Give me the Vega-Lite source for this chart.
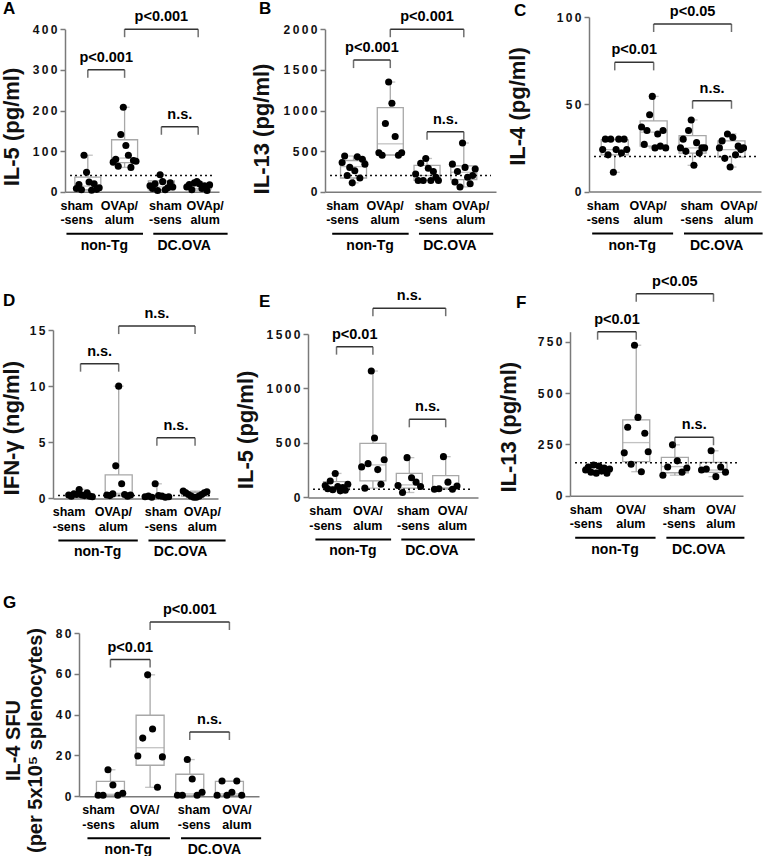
{
"$schema": "https://vega.github.io/schema/vega-lite/v6.json",
"padding": 0,
"background": "white",
"config": {
  "font": "Liberation Sans",
  "view": {"stroke": null},
  "axisY": {"grid": false, "domainColor": "#7a7a7a", "domainWidth": 1.5, "tickColor": "#7a7a7a", "tickWidth": 1.5, "tickSize": 5, "labelFont": "Liberation Sans", "labelFontSize": 12, "labelFontWeight": "bold", "labelColor": "#111", "labelPadding": 3, "titleFont": "Liberation Sans", "titleFontSize": 22, "titleFontWeight": "bold", "titleColor": "#111"},
  "axisX": {"grid": false, "ticks": false, "labels": false, "domainColor": "#7a7a7a", "domainWidth": 1.5},
  "title": {"font": "Liberation Sans", "fontSize": 17, "fontWeight": "bold", "anchor": "start", "frame": "group", "offset": 0, "color": "#000", "baseline": "alphabetic"},
  "text": {"font": "Liberation Sans", "fontWeight": "bold", "color": "#000"}
},
"datasets": {
  "catP": [{"lx":0.70,"t1":"sham","t2":"-sens"},{"lx":1.86,"t1":"OVAp/","t2":"alum"},{"lx":3.11,"t1":"sham","t2":"-sens"},{"lx":4.19,"t1":"OVAp/","t2":"alum"}],
  "catO": [{"lx":0.70,"t1":"sham","t2":"-sens"},{"lx":1.86,"t1":"OVA/","t2":"alum"},{"lx":3.11,"t1":"sham","t2":"-sens"},{"lx":4.19,"t1":"OVA/","t2":"alum"}],
  "grp": [{"a":0.42,"b":2.5,"m":1.45,"t":"non-Tg"},{"a":2.78,"b":4.8,"m":3.62,"t":"DC.OVA"}],
  "A_pts": [{"g":1,"v":8},{"g":1,"v":18},{"g":1,"v":5},{"g":1,"v":90},{"g":1,"v":48},{"g":1,"v":24},{"g":1,"v":4},{"g":1,"v":20},{"g":1,"v":6},{"g":1,"v":10},
            {"g":2,"v":73},{"g":2,"v":80},{"g":2,"v":63},{"g":2,"v":141},{"g":2,"v":208},{"g":2,"v":114},{"g":2,"v":90},{"g":2,"v":60},{"g":2,"v":77},{"g":2,"v":75},
            {"g":3,"v":15},{"g":3,"v":8},{"g":3,"v":20},{"g":3,"v":3},{"g":3,"v":42},{"g":3,"v":25},{"g":3,"v":5},{"g":3,"v":10},{"g":3,"v":22},{"g":3,"v":12},
            {"g":4,"v":12},{"g":4,"v":18},{"g":4,"v":5},{"g":4,"v":22},{"g":4,"v":25},{"g":4,"v":20},{"g":4,"v":8},{"g":4,"v":15},{"g":4,"v":3},{"g":4,"v":17}],
  "A_box": [{"g":1,"lo":4,"q1":5,"md":14,"q3":36,"hi":90},{"g":2,"lo":60,"q1":72,"md":83,"q3":128,"hi":208},{"g":3,"lo":3,"q1":5,"md":12,"q3":27,"hi":42},{"g":4,"lo":3,"q1":7,"md":13,"q3":19,"hi":25}],
  "A_brk": [{"a":1,"b":2,"y":300,"t":"p<0.001"},{"a":2,"b":4,"y":400,"t":"p<0.001"},{"a":3,"b":4,"y":160,"t":"n.s."}],
  "B_pts": [{"g":1,"v":360},{"g":1,"v":440},{"g":1,"v":200},{"g":1,"v":300},{"g":1,"v":110},{"g":1,"v":260},{"g":1,"v":430},{"g":1,"v":170},{"g":1,"v":400},{"g":1,"v":340},
            {"g":2,"v":480},{"g":2,"v":450},{"g":2,"v":840},{"g":2,"v":1350},{"g":2,"v":1090},{"g":2,"v":680},{"g":2,"v":450},{"g":2,"v":480},
            {"g":3,"v":220},{"g":3,"v":140},{"g":3,"v":350},{"g":3,"v":140},{"g":3,"v":410},{"g":3,"v":290},{"g":3,"v":140},{"g":3,"v":250},{"g":3,"v":180},{"g":3,"v":140},
            {"g":4,"v":340},{"g":4,"v":120},{"g":4,"v":250},{"g":4,"v":60},{"g":4,"v":600},{"g":4,"v":300},{"g":4,"v":180},{"g":4,"v":100},{"g":4,"v":200},{"g":4,"v":280}],
  "B_box": [{"g":1,"lo":110,"q1":170,"md":310,"q3":385,"hi":440},{"g":2,"lo":450,"q1":455,"md":590,"q3":1035,"hi":1350},{"g":3,"lo":140,"q1":140,"md":200,"q3":325,"hi":410},{"g":4,"lo":60,"q1":150,"md":240,"q3":320,"hi":600}],
  "B_brk": [{"a":1,"b":2,"y":1620,"t":"p<0.001"},{"a":2,"b":4,"y":2000,"t":"p<0.001"},{"a":3,"b":4,"y":740,"t":"n.s."}],
  "C_pts": [{"g":1,"v":24},{"g":1,"v":30},{"g":1,"v":21},{"g":1,"v":30},{"g":1,"v":11},{"g":1,"v":24},{"g":1,"v":30},{"g":1,"v":22},{"g":1,"v":30},{"g":1,"v":24},
            {"g":2,"v":37},{"g":2,"v":27},{"g":2,"v":35},{"g":2,"v":44},{"g":2,"v":54.5},{"g":2,"v":25},{"g":2,"v":33},{"g":2,"v":26},{"g":2,"v":35},{"g":2,"v":25},
            {"g":3,"v":25},{"g":3,"v":30},{"g":3,"v":23},{"g":3,"v":35},{"g":3,"v":41},{"g":3,"v":15},{"g":3,"v":28},{"g":3,"v":22},{"g":3,"v":25},{"g":3,"v":25},
            {"g":4,"v":25},{"g":4,"v":29},{"g":4,"v":19},{"g":4,"v":33},{"g":4,"v":14},{"g":4,"v":31},{"g":4,"v":21},{"g":4,"v":26},{"g":4,"v":24},{"g":4,"v":25}],
  "C_box": [{"g":1,"lo":11,"q1":21,"md":24,"q3":29.6,"hi":30},{"g":2,"lo":25,"q1":26,"md":34,"q3":40.5,"hi":54.5},{"g":3,"lo":15,"q1":22,"md":25,"q3":32,"hi":41},{"g":4,"lo":14,"q1":19.7,"md":24,"q3":29,"hi":33}],
  "C_brk": [{"a":1,"b":2,"y":74,"t":"p<0.01"},{"a":2,"b":4,"y":96,"t":"p<0.05"},{"a":3,"b":4,"y":52,"t":"n.s."}],
  "D_pts": [{"g":1,"v":0.3},{"g":1,"v":0.2},{"g":1,"v":0.4},{"g":1,"v":0.35},{"g":1,"v":0.8},{"g":1,"v":0.3},{"g":1,"v":0.25},{"g":1,"v":0.5},{"g":1,"v":0.2},{"g":1,"v":0.15},
            {"g":2,"v":0.3},{"g":2,"v":0.25},{"g":2,"v":0.4},{"g":2,"v":2.9},{"g":2,"v":10},{"g":2,"v":1.3},{"g":2,"v":0.35},{"g":2,"v":0.2},{"g":2,"v":0.3},
            {"g":3,"v":0.15},{"g":3,"v":0.2},{"g":3,"v":0.1},{"g":3,"v":1.3},{"g":3,"v":0.25},{"g":3,"v":0.2},{"g":3,"v":0.1},{"g":3,"v":0.15},
            {"g":4,"v":0.65},{"g":4,"v":0.5},{"g":4,"v":0.35},{"g":4,"v":0.2},{"g":4,"v":0.1},{"g":4,"v":0.1},{"g":4,"v":0.2},{"g":4,"v":0.35},{"g":4,"v":0.5},{"g":4,"v":0.6}],
  "D_box": [{"g":1,"lo":0.15,"q1":0.2,"md":0.3,"q3":0.4,"hi":0.8},{"g":2,"lo":0.2,"q1":0.3,"md":0.45,"q3":2.1,"hi":10},{"g":3,"lo":0.1,"q1":0.15,"md":0.2,"q3":0.25,"hi":1.3},{"g":4,"lo":0.1,"q1":0.2,"md":0.35,"q3":0.55,"hi":0.65}],
  "D_brk": [{"a":1,"b":2,"y":12,"t":"n.s."},{"a":2,"b":4,"y":15.35,"t":"n.s."},{"a":3,"b":4,"y":5.4,"t":"n.s."}],
  "E_pts": [{"g":1,"v":110},{"g":1,"v":80},{"g":1,"v":150},{"g":1,"v":70},{"g":1,"v":220},{"g":1,"v":100},{"g":1,"v":60},{"g":1,"v":90},{"g":1,"v":65},{"g":1,"v":120},
            {"g":2,"v":280},{"g":2,"v":85},{"g":2,"v":310},{"g":2,"v":1160},{"g":2,"v":545},{"g":2,"v":255},{"g":2,"v":120},{"g":2,"v":345},
            {"g":3,"v":110},{"g":3,"v":45},{"g":3,"v":365},{"g":3,"v":180},{"g":3,"v":140},{"g":3,"v":100},
            {"g":4,"v":75},{"g":4,"v":80},{"g":4,"v":374},{"g":4,"v":140},{"g":4,"v":75},{"g":4,"v":105}],
  "E_box": [{"g":1,"lo":60,"q1":70,"md":100,"q3":145,"hi":220},{"g":2,"lo":85,"q1":151,"md":298,"q3":496,"hi":1160},{"g":3,"lo":45,"q1":85,"md":115,"q3":220,"hi":365},{"g":4,"lo":75,"q1":80,"md":90,"q3":200,"hi":374}],
  "E_brk": [{"a":1,"b":2,"y":1384,"t":"p<0.01"},{"a":2,"b":4,"y":1737,"t":"n.s."},{"a":3,"b":4,"y":717,"t":"n.s."}],
  "F_pts": [{"g":1,"v":125},{"g":1,"v":140},{"g":1,"v":115},{"g":1,"v":150},{"g":1,"v":110},{"g":1,"v":145},{"g":1,"v":120},{"g":1,"v":135},{"g":1,"v":110},{"g":1,"v":130},
            {"g":2,"v":209},{"g":2,"v":334},{"g":2,"v":153},{"g":2,"v":734},{"g":2,"v":382},{"g":2,"v":117},{"g":2,"v":305},{"g":2,"v":214},
            {"g":3,"v":100},{"g":3,"v":140},{"g":3,"v":248},{"g":3,"v":170},{"g":3,"v":115},{"g":3,"v":135},
            {"g":4,"v":125},{"g":4,"v":130},{"g":4,"v":219},{"g":4,"v":93},{"g":4,"v":140},{"g":4,"v":115}],
  "F_box": [{"g":1,"lo":110,"q1":115,"md":125,"q3":140,"hi":150},{"g":2,"lo":117,"q1":166,"md":259,"q3":370,"hi":734},{"g":3,"lo":100,"q1":112,"md":142,"q3":187,"hi":248},{"g":4,"lo":93,"q1":114,"md":125,"q3":163,"hi":219}],
  "F_brk": [{"a":1,"b":2,"y":800,"t":"p<0.01"},{"a":2,"b":4,"y":985,"t":"p<0.05"},{"a":3,"b":4,"y":285,"t":"n.s."}],
  "G_pts": [{"g":1,"v":0.5},{"g":1,"v":0.5},{"g":1,"v":13},{"g":1,"v":5.5},{"g":1,"v":0.5},{"g":1,"v":1.5},
            {"g":2,"v":19.7},{"g":2,"v":28.5},{"g":2,"v":59.5},{"g":2,"v":33},{"g":2,"v":4.4},{"g":2,"v":19.3},
            {"g":3,"v":0.5},{"g":3,"v":0.5},{"g":3,"v":18},{"g":3,"v":8.5},{"g":3,"v":0.5},{"g":3,"v":2},
            {"g":4,"v":0.5},{"g":4,"v":7.5},{"g":4,"v":0.5},{"g":4,"v":2},{"g":4,"v":7.5},{"g":4,"v":0.5}],
  "G_box": [{"g":1,"lo":0.5,"q1":0.5,"md":1,"q3":7.3,"hi":13},{"g":2,"lo":4.4,"q1":15.2,"md":23.8,"q3":39.7,"hi":59.5},{"g":3,"lo":0.5,"q1":0.5,"md":1.2,"q3":10.8,"hi":18},{"g":4,"lo":0.5,"q1":0.5,"md":1.2,"q3":7.3,"hi":7.5}],
  "G_brk": [{"a":1,"b":2,"y":67,"t":"p<0.01"},{"a":2,"b":4,"y":85.4,"t":"p<0.001"},{"a":3,"b":4,"y":31.5,"t":"n.s."}]
},
"columns": 3,
"align": "each",
"spacing": 0,
"bounds": "flush",
"concat": [
   {"width":255,"height":312.8,"title":{"text":"A","dx":-50,"dy":13},
      "layer":[
       {"data":{"name":"A_box"},"mark":{"type":"rule","color":"#a8a8a8","strokeWidth":1.3},
        "encoding":{"x":{"field":"g","type":"quantitative","scale":{"domain":[0.516,4.43],"range":[12,166],"nice":false,"zero":false},"axis":{"title":null,"offset":-138}},
          "y":{"field":"lo","type":"quantitative","scale":{"domain":[0,400],"range":[174.8,12.2],"nice":false,"zero":false},"axis":{"values":[0,100,200,300,400],"offset":-12,"title":"IL-5 (pg/ml)","titleY":109.5,"titlePadding":9,"format":"d","labelExpr":"join(split(datum.label,''),'\u2009')"}},
          "y2":{"field":"hi"}}},
       {"data":{"name":"A_box"},"transform":[{"fold":["lo","hi"],"as":["w","v"]}],"mark":{"type":"tick","orient":"horizontal","size":10,"thickness":1.3,"color":"#a8a8a8"},
        "encoding":{"x":{"field":"g","type":"quantitative"},"y":{"field":"v","type":"quantitative"}}},
       {"data":{"name":"A_box"},"mark":{"type":"bar","width":26,"fill":"white","stroke":"#a8a8a8","strokeWidth":1.3},
        "encoding":{"x":{"field":"g","type":"quantitative"},"y":{"field":"q1","type":"quantitative"},"y2":{"field":"q3"}}},
       {"data":{"name":"A_box"},"mark":{"type":"tick","orient":"horizontal","size":26,"thickness":1.3,"color":"#a8a8a8"},
        "encoding":{"x":{"field":"g","type":"quantitative"},"y":{"field":"md","type":"quantitative"}}},
       {"data":{"values":[{"t":40}]},"mark":{"type":"rule","strokeDash":[2,3],"strokeWidth":1.5,"color":"#111"},
        "encoding":{"x":{"datum":0.516,"type":"quantitative"},"x2":{"datum":4.43},"y":{"field":"t","type":"quantitative"}}},
       {"data":{"name":"A_pts"},"transform":[{"window":[{"op":"row_number","as":"k"}],"groupby":["g"]},{"joinaggregate":[{"op":"count","as":"n"}],"groupby":["g"]},{"calculate":"datum.g + (datum.k - (datum.n + 1) / 2) / (datum.n - 1) * 0.62","as":"xj"}],
        "mark":{"type":"circle","size":50,"color":"#000","opacity":1},
        "encoding":{"x":{"field":"xj","type":"quantitative"},"y":{"field":"v","type":"quantitative"}}},
       {"data":{"name":"A_brk"},"mark":{"type":"rule","color":"#333","strokeWidth":1.5},
        "encoding":{"x":{"field":"a","type":"quantitative"},"x2":{"field":"b"},"y":{"field":"y","type":"quantitative"}}},
       {"data":{"name":"A_brk"},"transform":[{"fold":["a","b"],"as":["e","xe"]}],"mark":{"type":"tick","orient":"vertical","size":8,"thickness":1.5,"color":"#333","yOffset":4},
        "encoding":{"x":{"field":"xe","type":"quantitative"},"y":{"field":"y","type":"quantitative"}}},
       {"data":{"name":"A_brk"},"transform":[{"calculate":"(datum.a + datum.b) / 2","as":"m"}],"mark":{"type":"text","fontSize":14.5,"dy":-8,"baseline":"alphabetic"},
        "encoding":{"x":{"field":"m","type":"quantitative"},"y":{"field":"y","type":"quantitative"},"text":{"field":"t"}}},
       {"data":{"name":"catP"},"mark":{"type":"text","fontSize":12.5,"baseline":"top","dy":8},
        "encoding":{"x":{"field":"lx","type":"quantitative"},"y":{"datum":0,"type":"quantitative"},"text":{"field":"t1"}}},
       {"data":{"name":"catP"},"mark":{"type":"text","fontSize":12.5,"baseline":"top","dy":22.5},
        "encoding":{"x":{"field":"lx","type":"quantitative"},"y":{"datum":0,"type":"quantitative"},"text":{"field":"t2"}}},
       {"data":{"name":"grp"},"mark":{"type":"rule","strokeWidth":2,"color":"#000","yOffset":42},
        "encoding":{"x":{"field":"a","type":"quantitative"},"x2":{"field":"b"},"y":{"datum":0,"type":"quantitative"}}},
       {"data":{"name":"grp"},"mark":{"type":"text","fontSize":14,"dy":58,"baseline":"alphabetic"},
        "encoding":{"x":{"field":"m","type":"quantitative"},"y":{"datum":0,"type":"quantitative"},"text":{"field":"t"}}}
      ]},
   {"width":262,"height":312.8,"title":{"text":"B","dx":-49,"dy":13},
      "layer":[
       {"data":{"name":"B_box"},"mark":{"type":"rule","color":"#a8a8a8","strokeWidth":1.3},
        "encoding":{"x":{"field":"g","type":"quantitative","scale":{"domain":[0.36,4.74],"range":[17,188],"nice":false,"zero":false},"axis":{"title":null,"offset":-138}},
          "y":{"field":"lo","type":"quantitative","scale":{"domain":[0,2000],"range":[174.8,12.2],"nice":false,"zero":false},"axis":{"values":[0,500,1000,1500,2000],"offset":-17,"title":"IL-13 (pg/ml)","titleY":111.5,"titlePadding":9.5,"format":"d","labelExpr":"join(split(datum.label,''),'\u2009')"}},
          "y2":{"field":"hi"}}},
       {"data":{"name":"B_box"},"transform":[{"fold":["lo","hi"],"as":["w","v"]}],"mark":{"type":"tick","orient":"horizontal","size":10,"thickness":1.3,"color":"#a8a8a8"},
        "encoding":{"x":{"field":"g","type":"quantitative"},"y":{"field":"v","type":"quantitative"}}},
       {"data":{"name":"B_box"},"mark":{"type":"bar","width":26,"fill":"white","stroke":"#a8a8a8","strokeWidth":1.3},
        "encoding":{"x":{"field":"g","type":"quantitative"},"y":{"field":"q1","type":"quantitative"},"y2":{"field":"q3"}}},
       {"data":{"name":"B_box"},"mark":{"type":"tick","orient":"horizontal","size":26,"thickness":1.3,"color":"#a8a8a8"},
        "encoding":{"x":{"field":"g","type":"quantitative"},"y":{"field":"md","type":"quantitative"}}},
       {"data":{"values":[{"t":200}]},"mark":{"type":"rule","strokeDash":[2,3],"strokeWidth":1.5,"color":"#111"},
        "encoding":{"x":{"datum":0.36,"type":"quantitative"},"x2":{"datum":4.74},"y":{"field":"t","type":"quantitative"}}},
       {"data":{"name":"B_pts"},"transform":[{"window":[{"op":"row_number","as":"k"}],"groupby":["g"]},{"joinaggregate":[{"op":"count","as":"n"}],"groupby":["g"]},{"calculate":"datum.g + (datum.k - (datum.n + 1) / 2) / (datum.n - 1) * 0.62","as":"xj"}],
        "mark":{"type":"circle","size":50,"color":"#000","opacity":1},
        "encoding":{"x":{"field":"xj","type":"quantitative"},"y":{"field":"v","type":"quantitative"}}},
       {"data":{"name":"B_brk"},"mark":{"type":"rule","color":"#333","strokeWidth":1.5},
        "encoding":{"x":{"field":"a","type":"quantitative"},"x2":{"field":"b"},"y":{"field":"y","type":"quantitative"}}},
       {"data":{"name":"B_brk"},"transform":[{"fold":["a","b"],"as":["e","xe"]}],"mark":{"type":"tick","orient":"vertical","size":8,"thickness":1.5,"color":"#333","yOffset":4},
        "encoding":{"x":{"field":"xe","type":"quantitative"},"y":{"field":"y","type":"quantitative"}}},
       {"data":{"name":"B_brk"},"transform":[{"calculate":"(datum.a + datum.b) / 2","as":"m"}],"mark":{"type":"text","fontSize":14.5,"dy":-8,"baseline":"alphabetic"},
        "encoding":{"x":{"field":"m","type":"quantitative"},"y":{"field":"y","type":"quantitative"},"text":{"field":"t"}}},
       {"data":{"name":"catP"},"mark":{"type":"text","fontSize":12.5,"baseline":"top","dy":8},
        "encoding":{"x":{"field":"lx","type":"quantitative"},"y":{"datum":0,"type":"quantitative"},"text":{"field":"t1"}}},
       {"data":{"name":"catP"},"mark":{"type":"text","fontSize":12.5,"baseline":"top","dy":22.5},
        "encoding":{"x":{"field":"lx","type":"quantitative"},"y":{"datum":0,"type":"quantitative"},"text":{"field":"t2"}}},
       {"data":{"name":"grp"},"mark":{"type":"rule","strokeWidth":2,"color":"#000","yOffset":42},
        "encoding":{"x":{"field":"a","type":"quantitative"},"x2":{"field":"b"},"y":{"datum":0,"type":"quantitative"}}},
       {"data":{"name":"grp"},"mark":{"type":"text","fontSize":14,"dy":58,"baseline":"alphabetic"},
        "encoding":{"x":{"field":"m","type":"quantitative"},"y":{"datum":0,"type":"quantitative"},"text":{"field":"t"}}}
      ]},
   {"width":194,"height":312.8,"title":{"text":"C","dx":-56,"dy":20},
      "layer":[
       {"data":{"name":"C_box"},"mark":{"type":"rule","color":"#a8a8a8","strokeWidth":1.3},
        "encoding":{"x":{"field":"g","type":"quantitative","scale":{"domain":[0.467,4.63],"range":[19,191],"nice":false,"zero":false},"axis":{"title":null,"offset":-138.3}},
          "y":{"field":"lo","type":"quantitative","scale":{"domain":[0,100],"range":[174.5,0],"nice":false,"zero":false},"axis":{"values":[0,50,100],"offset":-19,"title":"IL-4 (pg/ml)","titleY":89,"titlePadding":27,"format":"d","labelExpr":"join(split(datum.label,''),'\u2009')"}},
          "y2":{"field":"hi"}}},
       {"data":{"name":"C_box"},"transform":[{"fold":["lo","hi"],"as":["w","v"]}],"mark":{"type":"tick","orient":"horizontal","size":10,"thickness":1.3,"color":"#a8a8a8"},
        "encoding":{"x":{"field":"g","type":"quantitative"},"y":{"field":"v","type":"quantitative"}}},
       {"data":{"name":"C_box"},"mark":{"type":"bar","width":27,"fill":"white","stroke":"#a8a8a8","strokeWidth":1.3},
        "encoding":{"x":{"field":"g","type":"quantitative"},"y":{"field":"q1","type":"quantitative"},"y2":{"field":"q3"}}},
       {"data":{"name":"C_box"},"mark":{"type":"tick","orient":"horizontal","size":27,"thickness":1.3,"color":"#a8a8a8"},
        "encoding":{"x":{"field":"g","type":"quantitative"},"y":{"field":"md","type":"quantitative"}}},
       {"data":{"values":[{"t":20}]},"mark":{"type":"rule","strokeDash":[2,3],"strokeWidth":1.5,"color":"#111"},
        "encoding":{"x":{"datum":0.467,"type":"quantitative"},"x2":{"datum":4.63},"y":{"field":"t","type":"quantitative"}}},
       {"data":{"name":"C_pts"},"transform":[{"window":[{"op":"row_number","as":"k"}],"groupby":["g"]},{"joinaggregate":[{"op":"count","as":"n"}],"groupby":["g"]},{"calculate":"datum.g + (datum.k - (datum.n + 1) / 2) / (datum.n - 1) * 0.62","as":"xj"}],
        "mark":{"type":"circle","size":50,"color":"#000","opacity":1},
        "encoding":{"x":{"field":"xj","type":"quantitative"},"y":{"field":"v","type":"quantitative"}}},
       {"data":{"name":"C_brk"},"mark":{"type":"rule","color":"#333","strokeWidth":1.5},
        "encoding":{"x":{"field":"a","type":"quantitative"},"x2":{"field":"b"},"y":{"field":"y","type":"quantitative"}}},
       {"data":{"name":"C_brk"},"transform":[{"fold":["a","b"],"as":["e","xe"]}],"mark":{"type":"tick","orient":"vertical","size":8,"thickness":1.5,"color":"#333","yOffset":4},
        "encoding":{"x":{"field":"xe","type":"quantitative"},"y":{"field":"y","type":"quantitative"}}},
       {"data":{"name":"C_brk"},"transform":[{"calculate":"(datum.a + datum.b) / 2","as":"m"}],"mark":{"type":"text","fontSize":14.5,"dy":-8,"baseline":"alphabetic"},
        "encoding":{"x":{"field":"m","type":"quantitative"},"y":{"field":"y","type":"quantitative"},"text":{"field":"t"}}},
       {"data":{"name":"catP"},"mark":{"type":"text","fontSize":12.5,"baseline":"top","dy":8},
        "encoding":{"x":{"field":"lx","type":"quantitative"},"y":{"datum":0,"type":"quantitative"},"text":{"field":"t1"}}},
       {"data":{"name":"catP"},"mark":{"type":"text","fontSize":12.5,"baseline":"top","dy":22.5},
        "encoding":{"x":{"field":"lx","type":"quantitative"},"y":{"datum":0,"type":"quantitative"},"text":{"field":"t2"}}},
       {"data":{"name":"grp"},"mark":{"type":"rule","strokeWidth":2,"color":"#000","yOffset":42},
        "encoding":{"x":{"field":"a","type":"quantitative"},"x2":{"field":"b"},"y":{"datum":0,"type":"quantitative"}}},
       {"data":{"name":"grp"},"mark":{"type":"text","fontSize":14,"dy":58,"baseline":"alphabetic"},
        "encoding":{"x":{"field":"m","type":"quantitative"},"y":{"datum":0,"type":"quantitative"},"text":{"field":"t"}}}
      ]},
   {"width":255,"height":302.7,"title":{"text":"D","dx":-50,"dy":8},
      "layer":[
       {"data":{"name":"D_box"},"mark":{"type":"rule","color":"#a8a8a8","strokeWidth":1.3},
        "encoding":{"x":{"field":"g","type":"quantitative","scale":{"domain":[0.41,4.47],"range":[0,165],"nice":false,"zero":false},"axis":{"title":null,"offset":-134.3}},
          "y":{"field":"lo","type":"quantitative","scale":{"domain":[0,15],"range":[168.4,0],"nice":false,"zero":false},"axis":{"values":[0,5,10,15],"title":"IFN-γ (ng/ml)","titleY":97.7,"titlePadding":6,"format":"d","labelExpr":"join(split(datum.label,''),'\u2009')"}},
          "y2":{"field":"hi"}}},
       {"data":{"name":"D_box"},"transform":[{"fold":["lo","hi"],"as":["w","v"]}],"mark":{"type":"tick","orient":"horizontal","size":10,"thickness":1.3,"color":"#a8a8a8"},
        "encoding":{"x":{"field":"g","type":"quantitative"},"y":{"field":"v","type":"quantitative"}}},
       {"data":{"name":"D_box"},"mark":{"type":"bar","width":27,"fill":"white","stroke":"#a8a8a8","strokeWidth":1.3},
        "encoding":{"x":{"field":"g","type":"quantitative"},"y":{"field":"q1","type":"quantitative"},"y2":{"field":"q3"}}},
       {"data":{"name":"D_box"},"mark":{"type":"tick","orient":"horizontal","size":27,"thickness":1.3,"color":"#a8a8a8"},
        "encoding":{"x":{"field":"g","type":"quantitative"},"y":{"field":"md","type":"quantitative"}}},
       {"data":{"values":[{"t":0.25}]},"mark":{"type":"rule","strokeDash":[2,3],"strokeWidth":1.5,"color":"#111"},
        "encoding":{"x":{"datum":0.41,"type":"quantitative"},"x2":{"datum":4.47},"y":{"field":"t","type":"quantitative"}}},
       {"data":{"name":"D_pts"},"transform":[{"window":[{"op":"row_number","as":"k"}],"groupby":["g"]},{"joinaggregate":[{"op":"count","as":"n"}],"groupby":["g"]},{"calculate":"datum.g + (datum.k - (datum.n + 1) / 2) / (datum.n - 1) * 0.62","as":"xj"}],
        "mark":{"type":"circle","size":50,"color":"#000","opacity":1},
        "encoding":{"x":{"field":"xj","type":"quantitative"},"y":{"field":"v","type":"quantitative"}}},
       {"data":{"name":"D_brk"},"mark":{"type":"rule","color":"#333","strokeWidth":1.5},
        "encoding":{"x":{"field":"a","type":"quantitative"},"x2":{"field":"b"},"y":{"field":"y","type":"quantitative"}}},
       {"data":{"name":"D_brk"},"transform":[{"fold":["a","b"],"as":["e","xe"]}],"mark":{"type":"tick","orient":"vertical","size":8,"thickness":1.5,"color":"#333","yOffset":4},
        "encoding":{"x":{"field":"xe","type":"quantitative"},"y":{"field":"y","type":"quantitative"}}},
       {"data":{"name":"D_brk"},"transform":[{"calculate":"(datum.a + datum.b) / 2","as":"m"}],"mark":{"type":"text","fontSize":14.5,"dy":-8,"baseline":"alphabetic"},
        "encoding":{"x":{"field":"m","type":"quantitative"},"y":{"field":"y","type":"quantitative"},"text":{"field":"t"}}},
       {"data":{"name":"catP"},"mark":{"type":"text","fontSize":12.5,"baseline":"top","dy":8},
        "encoding":{"x":{"field":"lx","type":"quantitative"},"y":{"datum":0,"type":"quantitative"},"text":{"field":"t1"}}},
       {"data":{"name":"catP"},"mark":{"type":"text","fontSize":12.5,"baseline":"top","dy":22.5},
        "encoding":{"x":{"field":"lx","type":"quantitative"},"y":{"datum":0,"type":"quantitative"},"text":{"field":"t2"}}},
       {"data":{"name":"grp"},"mark":{"type":"rule","strokeWidth":2,"color":"#000","yOffset":42},
        "encoding":{"x":{"field":"a","type":"quantitative"},"x2":{"field":"b"},"y":{"datum":0,"type":"quantitative"}}},
       {"data":{"name":"grp"},"mark":{"type":"text","fontSize":14,"dy":58,"baseline":"alphabetic"},
        "encoding":{"x":{"field":"m","type":"quantitative"},"y":{"datum":0,"type":"quantitative"},"text":{"field":"t"}}}
      ]},
   {"width":262,"height":302.7,"title":{"text":"E","dx":-49,"dy":27},
      "layer":[
       {"data":{"name":"E_box"},"mark":{"type":"rule","color":"#a8a8a8","strokeWidth":1.3},
        "encoding":{"x":{"field":"g","type":"quantitative","scale":{"domain":[0.354,4.75],"range":[0,170],"nice":false,"zero":false},"axis":{"title":null,"offset":-135.3}},
          "y":{"field":"lo","type":"quantitative","scale":{"domain":[0,1500],"range":[167.4,4],"nice":false,"zero":false},"axis":{"values":[0,500,1000,1500],"title":"IL-5 (pg/ml)","titleY":99.4,"titlePadding":9,"format":"d","labelExpr":"join(split(datum.label,''),'\u2009')"}},
          "y2":{"field":"hi"}}},
       {"data":{"name":"E_box"},"transform":[{"fold":["lo","hi"],"as":["w","v"]}],"mark":{"type":"tick","orient":"horizontal","size":10,"thickness":1.3,"color":"#a8a8a8"},
        "encoding":{"x":{"field":"g","type":"quantitative"},"y":{"field":"v","type":"quantitative"}}},
       {"data":{"name":"E_box"},"mark":{"type":"bar","width":26,"fill":"white","stroke":"#a8a8a8","strokeWidth":1.3},
        "encoding":{"x":{"field":"g","type":"quantitative"},"y":{"field":"q1","type":"quantitative"},"y2":{"field":"q3"}}},
       {"data":{"name":"E_box"},"mark":{"type":"tick","orient":"horizontal","size":26,"thickness":1.3,"color":"#a8a8a8"},
        "encoding":{"x":{"field":"g","type":"quantitative"},"y":{"field":"md","type":"quantitative"}}},
       {"data":{"values":[{"t":75}]},"mark":{"type":"rule","strokeDash":[2,3],"strokeWidth":1.5,"color":"#111"},
        "encoding":{"x":{"datum":0.354,"type":"quantitative"},"x2":{"datum":4.75},"y":{"field":"t","type":"quantitative"}}},
       {"data":{"name":"E_pts"},"transform":[{"window":[{"op":"row_number","as":"k"}],"groupby":["g"]},{"joinaggregate":[{"op":"count","as":"n"}],"groupby":["g"]},{"calculate":"datum.g + (datum.k - (datum.n + 1) / 2) / (datum.n - 1) * 0.62","as":"xj"}],
        "mark":{"type":"circle","size":50,"color":"#000","opacity":1},
        "encoding":{"x":{"field":"xj","type":"quantitative"},"y":{"field":"v","type":"quantitative"}}},
       {"data":{"name":"E_brk"},"mark":{"type":"rule","color":"#333","strokeWidth":1.5},
        "encoding":{"x":{"field":"a","type":"quantitative"},"x2":{"field":"b"},"y":{"field":"y","type":"quantitative"}}},
       {"data":{"name":"E_brk"},"transform":[{"fold":["a","b"],"as":["e","xe"]}],"mark":{"type":"tick","orient":"vertical","size":8,"thickness":1.5,"color":"#333","yOffset":4},
        "encoding":{"x":{"field":"xe","type":"quantitative"},"y":{"field":"y","type":"quantitative"}}},
       {"data":{"name":"E_brk"},"transform":[{"calculate":"(datum.a + datum.b) / 2","as":"m"}],"mark":{"type":"text","fontSize":14.5,"dy":-8,"baseline":"alphabetic"},
        "encoding":{"x":{"field":"m","type":"quantitative"},"y":{"field":"y","type":"quantitative"},"text":{"field":"t"}}},
       {"data":{"name":"catO"},"mark":{"type":"text","fontSize":12.5,"baseline":"top","dy":8},
        "encoding":{"x":{"field":"lx","type":"quantitative"},"y":{"datum":0,"type":"quantitative"},"text":{"field":"t1"}}},
       {"data":{"name":"catO"},"mark":{"type":"text","fontSize":12.5,"baseline":"top","dy":22.5},
        "encoding":{"x":{"field":"lx","type":"quantitative"},"y":{"datum":0,"type":"quantitative"},"text":{"field":"t2"}}},
       {"data":{"name":"grp"},"mark":{"type":"rule","strokeWidth":2,"color":"#000","yOffset":42},
        "encoding":{"x":{"field":"a","type":"quantitative"},"x2":{"field":"b"},"y":{"datum":0,"type":"quantitative"}}},
       {"data":{"name":"grp"},"mark":{"type":"text","fontSize":14,"dy":58,"baseline":"alphabetic"},
        "encoding":{"x":{"field":"m","type":"quantitative"},"y":{"datum":0,"type":"quantitative"},"text":{"field":"t"}}}
      ]},
   {"width":194,"height":302.7,"title":{"text":"F","dx":-54,"dy":42},
      "layer":[
       {"data":{"name":"F_box"},"mark":{"type":"rule","color":"#a8a8a8","strokeWidth":1.3},
        "encoding":{"x":{"field":"g","type":"quantitative","scale":{"domain":[0.415,4.634],"range":[0,173],"nice":false,"zero":false},"axis":{"title":null,"offset":-137}},
          "y":{"field":"lo","type":"quantitative","scale":{"domain":[0,800],"range":[165.7,1.7],"nice":false,"zero":false},"axis":{"values":[0,250,500,750],"title":"IL-13 (pg/ml)","titleY":96.7,"titlePadding":17,"format":"d","labelExpr":"join(split(datum.label,''),'\u2009')"}},
          "y2":{"field":"hi"}}},
       {"data":{"name":"F_box"},"transform":[{"fold":["lo","hi"],"as":["w","v"]}],"mark":{"type":"tick","orient":"horizontal","size":10,"thickness":1.3,"color":"#a8a8a8"},
        "encoding":{"x":{"field":"g","type":"quantitative"},"y":{"field":"v","type":"quantitative"}}},
       {"data":{"name":"F_box"},"mark":{"type":"bar","width":27,"fill":"white","stroke":"#a8a8a8","strokeWidth":1.3},
        "encoding":{"x":{"field":"g","type":"quantitative"},"y":{"field":"q1","type":"quantitative"},"y2":{"field":"q3"}}},
       {"data":{"name":"F_box"},"mark":{"type":"tick","orient":"horizontal","size":27,"thickness":1.3,"color":"#a8a8a8"},
        "encoding":{"x":{"field":"g","type":"quantitative"},"y":{"field":"md","type":"quantitative"}}},
       {"data":{"values":[{"t":161}]},"mark":{"type":"rule","strokeDash":[2,3],"strokeWidth":1.5,"color":"#111"},
        "encoding":{"x":{"datum":0.415,"type":"quantitative"},"x2":{"datum":4.634},"y":{"field":"t","type":"quantitative"}}},
       {"data":{"name":"F_pts"},"transform":[{"window":[{"op":"row_number","as":"k"}],"groupby":["g"]},{"joinaggregate":[{"op":"count","as":"n"}],"groupby":["g"]},{"calculate":"datum.g + (datum.k - (datum.n + 1) / 2) / (datum.n - 1) * 0.62","as":"xj"}],
        "mark":{"type":"circle","size":50,"color":"#000","opacity":1},
        "encoding":{"x":{"field":"xj","type":"quantitative"},"y":{"field":"v","type":"quantitative"}}},
       {"data":{"name":"F_brk"},"mark":{"type":"rule","color":"#333","strokeWidth":1.5},
        "encoding":{"x":{"field":"a","type":"quantitative"},"x2":{"field":"b"},"y":{"field":"y","type":"quantitative"}}},
       {"data":{"name":"F_brk"},"transform":[{"fold":["a","b"],"as":["e","xe"]}],"mark":{"type":"tick","orient":"vertical","size":8,"thickness":1.5,"color":"#333","yOffset":4},
        "encoding":{"x":{"field":"xe","type":"quantitative"},"y":{"field":"y","type":"quantitative"}}},
       {"data":{"name":"F_brk"},"transform":[{"calculate":"(datum.a + datum.b) / 2","as":"m"}],"mark":{"type":"text","fontSize":14.5,"dy":-8,"baseline":"alphabetic"},
        "encoding":{"x":{"field":"m","type":"quantitative"},"y":{"field":"y","type":"quantitative"},"text":{"field":"t"}}},
       {"data":{"name":"catO"},"mark":{"type":"text","fontSize":12.5,"baseline":"top","dy":8},
        "encoding":{"x":{"field":"lx","type":"quantitative"},"y":{"datum":0,"type":"quantitative"},"text":{"field":"t1"}}},
       {"data":{"name":"catO"},"mark":{"type":"text","fontSize":12.5,"baseline":"top","dy":22.5},
        "encoding":{"x":{"field":"lx","type":"quantitative"},"y":{"datum":0,"type":"quantitative"},"text":{"field":"t2"}}},
       {"data":{"name":"grp"},"mark":{"type":"rule","strokeWidth":2,"color":"#000","yOffset":42},
        "encoding":{"x":{"field":"a","type":"quantitative"},"x2":{"field":"b"},"y":{"datum":0,"type":"quantitative"}}},
       {"data":{"name":"grp"},"mark":{"type":"text","fontSize":14,"dy":58,"baseline":"alphabetic"},
        "encoding":{"x":{"field":"m","type":"quantitative"},"y":{"datum":0,"type":"quantitative"},"text":{"field":"t"}}}
      ]},
   {"width":255,"height":163.3,"title":{"text":"G","dx":-50,"dy":14},
      "layer":[
       {"data":{"name":"G_box"},"mark":{"type":"rule","color":"#a8a8a8","strokeWidth":1.3},
        "encoding":{"x":{"field":"g","type":"quantitative","scale":{"domain":[0.333,4.62],"range":[26,206],"nice":false,"zero":false},"axis":{"title":null}},
          "y":{"field":"lo","type":"quantitative","scale":{"domain":[0,80],"range":[163.3,0],"nice":false,"zero":false},"axis":{"values":[0,20,40,60,80],"offset":-26,"title":["IL-4 SFU","(per 5x10⁵ splenocytes)"],"titleFontSize":20,"titleLineHeight":22,"titleY":107,"titlePadding":10,"format":"d","labelExpr":"join(split(datum.label,''),'\u2009')"}},
          "y2":{"field":"hi"}}},
       {"data":{"name":"G_box"},"transform":[{"fold":["lo","hi"],"as":["w","v"]}],"mark":{"type":"tick","orient":"horizontal","size":10,"thickness":1.3,"color":"#a8a8a8"},
        "encoding":{"x":{"field":"g","type":"quantitative"},"y":{"field":"v","type":"quantitative"}}},
       {"data":{"name":"G_box"},"mark":{"type":"bar","width":28,"fill":"white","stroke":"#a8a8a8","strokeWidth":1.3},
        "encoding":{"x":{"field":"g","type":"quantitative"},"y":{"field":"q1","type":"quantitative"},"y2":{"field":"q3"}}},
       {"data":{"name":"G_box"},"mark":{"type":"tick","orient":"horizontal","size":28,"thickness":1.3,"color":"#a8a8a8"},
        "encoding":{"x":{"field":"g","type":"quantitative"},"y":{"field":"md","type":"quantitative"}}},
       {"data":{"name":"G_pts"},"transform":[{"window":[{"op":"row_number","as":"k"}],"groupby":["g"]},{"joinaggregate":[{"op":"count","as":"n"}],"groupby":["g"]},{"calculate":"datum.g + (datum.k - (datum.n + 1) / 2) / (datum.n - 1) * 0.62","as":"xj"}],
        "mark":{"type":"circle","size":50,"color":"#000","opacity":1},
        "encoding":{"x":{"field":"xj","type":"quantitative"},"y":{"field":"v","type":"quantitative"}}},
       {"data":{"name":"G_brk"},"mark":{"type":"rule","color":"#333","strokeWidth":1.5},
        "encoding":{"x":{"field":"a","type":"quantitative"},"x2":{"field":"b"},"y":{"field":"y","type":"quantitative"}}},
       {"data":{"name":"G_brk"},"transform":[{"fold":["a","b"],"as":["e","xe"]}],"mark":{"type":"tick","orient":"vertical","size":8,"thickness":1.5,"color":"#333","yOffset":4},
        "encoding":{"x":{"field":"xe","type":"quantitative"},"y":{"field":"y","type":"quantitative"}}},
       {"data":{"name":"G_brk"},"transform":[{"calculate":"(datum.a + datum.b) / 2","as":"m"}],"mark":{"type":"text","fontSize":14.5,"dy":-8,"baseline":"alphabetic"},
        "encoding":{"x":{"field":"m","type":"quantitative"},"y":{"field":"y","type":"quantitative"},"text":{"field":"t"}}},
       {"data":{"name":"catO"},"mark":{"type":"text","fontSize":12.5,"baseline":"top","dy":8},
        "encoding":{"x":{"field":"lx","type":"quantitative"},"y":{"datum":0,"type":"quantitative"},"text":{"field":"t1"}}},
       {"data":{"name":"catO"},"mark":{"type":"text","fontSize":12.5,"baseline":"top","dy":22.5},
        "encoding":{"x":{"field":"lx","type":"quantitative"},"y":{"datum":0,"type":"quantitative"},"text":{"field":"t2"}}},
       {"data":{"name":"grp"},"mark":{"type":"rule","strokeWidth":2,"color":"#000","yOffset":42},
        "encoding":{"x":{"field":"a","type":"quantitative"},"x2":{"field":"b"},"y":{"datum":0,"type":"quantitative"}}},
       {"data":{"name":"grp"},"mark":{"type":"text","fontSize":14,"dy":58,"baseline":"alphabetic"},
        "encoding":{"x":{"field":"m","type":"quantitative"},"y":{"datum":0,"type":"quantitative"},"text":{"field":"t"}}}
      ]}
]
}
